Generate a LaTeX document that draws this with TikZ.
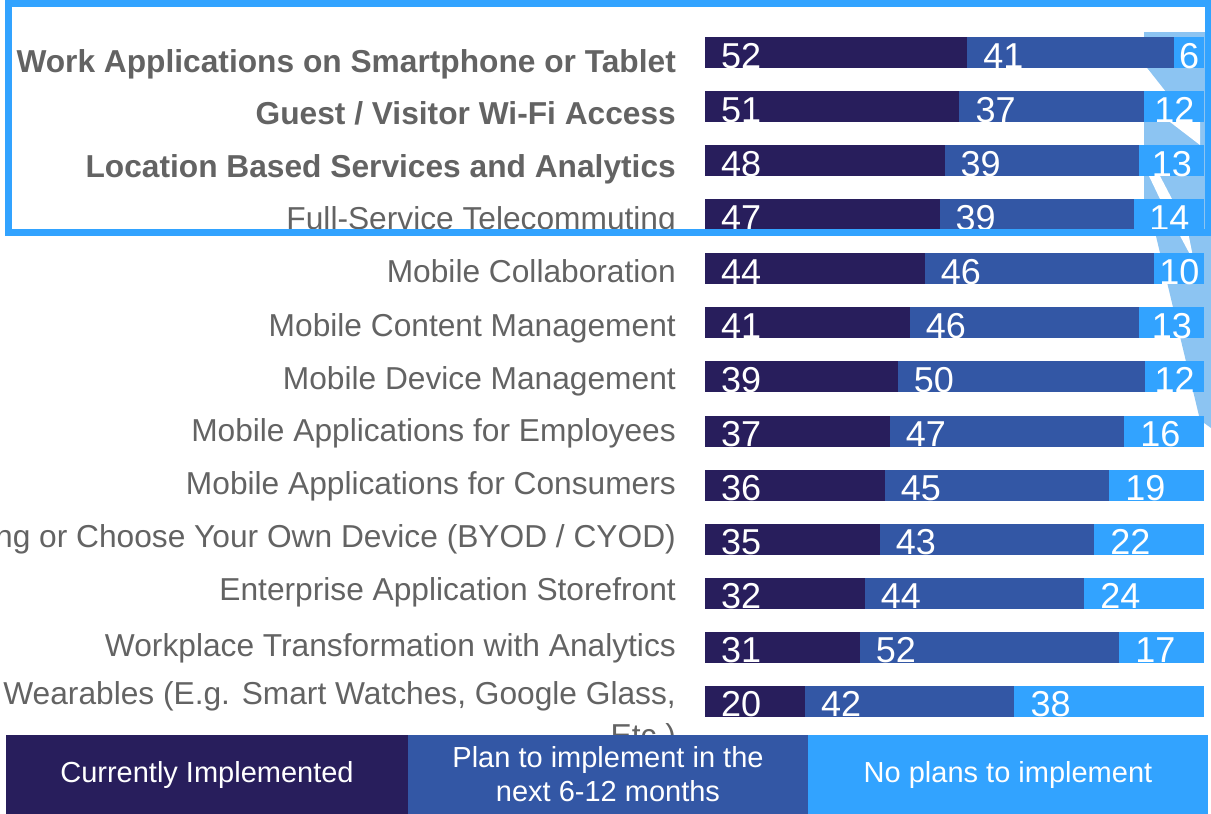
\documentclass[tikz,border=0pt]{standalone}
\usepackage{fontspec}
\setmainfont{Liberation Sans}
\definecolor{implemented}{RGB}{40,30,92}
\definecolor{planned}{RGB}{51,87,165}
\definecolor{noplan}{RGB}{50,163,255}
\definecolor{callout}{RGB}{140,196,242}
\definecolor{labgray}{RGB}{99,99,99}

\begin{document}
\begin{tikzpicture}[x=1pt,y=-1pt,
	lab/.style={anchor=base east,inner sep=0pt,text=labgray,font=\fontsize{31.7}{38}\selectfont},
	labbold/.style={lab,font=\fontsize{31.7}{38}\selectfont\bfseries},
	num/.style={anchor=base west,inner sep=0pt,text=white,font=\fontsize{36}{36}\selectfont},
	legbox/.style={minimum height=79pt,inner sep=0pt,text=white,align=center,font=\fontsize{29}{34}\selectfont}]
	    	\useasboundingbox (0,0) rectangle (1211,814);
	    	\clip (0,0) rectangle (1211,814);
	    	% callout band behind the bars
	    	\fill[callout] (1144,32) rectangle (1205,232);
	    	\fill[white] (1140,68) -- (1147,68) -- (1166,92) -- (1140,92) -- cycle;
	    	\fill[white] (1170,122) -- (1200,122) -- (1200,145) -- cycle;
	    	\fill[white] (1149,176) -- (1160,176) -- (1172,199) -- (1160,199) -- cycle;
	    	\fill[callout] (1155,232) -- (1211,232) -- (1211,428) -- (1200,420) -- cycle;
	    	\fill[white] (1178,232) -- (1188,232) -- (1194,262) -- cycle;
	    	% bars
	    	\foreach \a/\b/\c [count=\i from 0] in {52/41/6,51/37/12,48/39/13,47/39/14,44/46/10,41/46/13,39/50/12,37/47/16,36/45/19,35/43/22,32/44/24,31/52/17,20/42/38}
	    	{
	    		\pgfmathsetmacro\t{37+54.08*\i}
	    		\pgfmathsetmacro\bt{\t+31}
	    		\pgfmathsetmacro\xa{705+\a/(\a+\b+\c)*499}
	    		\pgfmathsetmacro\xb{\xa+\b/(\a+\b+\c)*499}
	    		\pgfmathsetmacro\tw{\c<10 ? 20 : 40}
	    		\pgfmathsetmacro\ic{min(16,max(2,(1204-\xb-\tw)/2))}
	    		\fill[implemented] (705,\t) rectangle (\xa,\bt);
	    		\fill[planned] (\xa,\t) rectangle (\xb,\bt);
	    		\fill[noplan] (\xb,\t) rectangle (1204,\bt);
	    		\node[num] (cur-\i) at (721,\bt) {\a};
	    		\node[num] (plan-\i) at (\xa+16,\bt) {\b};
	    		\node[num] (none-\i) at (\xb+\ic,\bt) {\c};
	    	}
	    	% row labels
	    	\node[labbold] (lab-work) at (676,72) {Work Applications on Smartphone or Tablet};
	    	\node[labbold] (lab-guest) at (676,124) {Guest / Visitor Wi-Fi Access};
	    	\node[labbold] (lab-loc) at (676,177) {Location Based Services and Analytics};
	    	\node[lab] (lab-tele) at (676,229) {Full-Service Telecommuting};
	    	\node[lab] (lab-collab) at (676,282) {Mobile Collaboration};
	    	\node[lab] (lab-content) at (676,336) {Mobile Content Management};
	    	\node[lab] (lab-device) at (676,389) {Mobile Device Management};
	    	\node[lab] (lab-emp) at (676,441) {Mobile Applications for Employees};
	    	\node[lab] (lab-cons) at (676,494) {Mobile Applications for Consumers};
	    	\node[lab] (lab-byod) at (676,547) {ng or Choose Your Own Device (BYOD / CYOD)};
	    	\node[lab] (lab-store) at (676,600) {Enterprise Application Storefront};
	    	\node[lab] (lab-work2) at (676,656) {Workplace Transformation with Analytics};
	    	\node[lab] (lab-wear) at (676,704) {Wearables (E.g. Smart Watches, Google Glass,};
	    	\node[lab] (lab-etc) at (676,746) {Etc.)};
	    	% highlight frame
	    	\draw[noplan,line width=7pt] (8,3) rectangle (1208,232.5);
	    	% legend
	    	\node[legbox,fill=implemented,minimum width=402pt] (leg-cur) at (207,774.5) {Currently Implemented};
	    	\node[legbox,fill=planned,minimum width=400pt] (leg-plan) at (608,774.5) {Plan to implement in the\\next 6-12 months};
	    	\node[legbox,fill=noplan,minimum width=400pt] (leg-none) at (1008,774.5) {No plans to implement};
	    	\end{tikzpicture}
\end{document}
